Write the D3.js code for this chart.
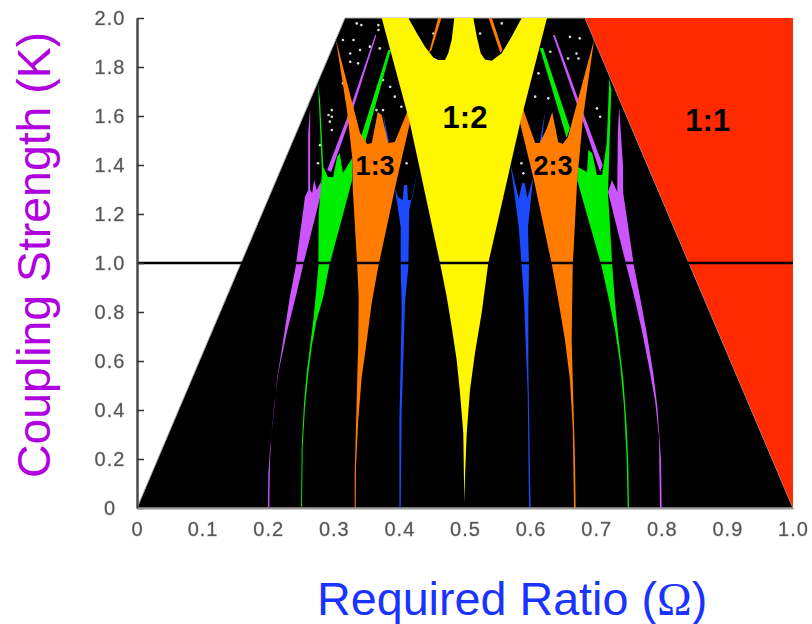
<!DOCTYPE html>
<html>
<head>
<meta charset="utf-8">
<style>
  body { margin: 0; background: #fff; }
  svg { display: block; font-family: "Liberation Sans", Arial, sans-serif; }
  .tick text { font-size: 20px; letter-spacing: 1px; fill: #555; stroke: #ccc; stroke-width: 0.8px; paint-order: stroke; filter: url(#softText); }
  .yaxis .domain { stroke: #4a4a4a; stroke-width: 2.5px; }
  .yaxis .tick line { stroke: #333; stroke-width: 1.5px; }
  .xaxis .domain { stroke: #999; stroke-width: 2px; }
  .ratio { font-weight: bold; fill: #000; text-anchor: middle; }
</style>
</head>
<body>
<div id="chartId"></div>
<script src="https://d3js.org/d3.v7.min.js"></script>
<script>

// Tick labels
const xTicks = [0, 0.1, 0.2, 0.3, 0.4, 0.5, 0.6, 0.7, 0.8, 0.9, 1.0];
const yTicks = [0, 0.2, 0.4, 0.6, 0.8, 1.0, 1.2, 1.4, 1.6, 1.8, 2.0];

// Arnold tongues, each outline is [omega, K]
const chaosRegion = [[0, 0], [0.317, 2], [0.683, 2], [1, 0]];
const tongue1to1 = [[0.683, 2], [1, 2], [1, 0]];
const tongue1to2 = [[0.373, 2], [0.416, 1.571], [0.4619, 1], [0.4721, 0.862], [0.4797, 0.74], [0.4873, 0.604], [0.4924, 0.469], [0.4974, 0.306], [0.4989, 0.02], [0.5, 0.127], [0.5026, 0.306], [0.5076, 0.482], [0.5152, 0.633], [0.5254, 0.796], [0.5355, 1], [0.584, 1.571], [0.625, 2], [0.5864, 2], [0.5712, 1.924], [0.556, 1.856], [0.5407, 1.826], [0.5305, 1.831], [0.5239, 1.856], [0.5179, 1.924], [0.5127, 2], [0.4837, 2], [0.4797, 1.91], [0.4745, 1.856], [0.4695, 1.829], [0.4593, 1.829], [0.4517, 1.839], [0.439, 1.883], [0.4264, 1.939], [0.4136, 2]];
const orangeTopLeft = [[0.459, 2], [0.464, 2], [0.449, 1.869], [0.445, 1.857]];
const orangeTopRight = [[0.536, 2], [0.541, 2], [0.557, 1.869], [0.554, 1.857]];
const tongue1to3 = [[0.303, 1.914], [0.34, 1.531], [0.351, 1.486], [0.358, 1.49], [0.367, 1.616], [0.373, 1.604], [0.383, 1.49], [0.393, 1.494], [0.413, 1.624], [0.416, 1.571], [0.396, 1.339], [0.3678, 0.985], [0.3578, 0.837], [0.3491, 0.658], [0.3426, 0.536], [0.3373, 0.359], [0.3338, 0.169], [0.3334, 0], [0.3318, 0], [0.3318, 0.143], [0.3338, 0.332], [0.3358, 0.536], [0.3373, 0.673], [0.3379, 0.862], [0.3358, 0.985], [0.329, 1.298], [0.328, 1.433], [0.32, 1.624]];
const tongue2to3 = [[0.697, 1.914], [0.657, 1.514], [0.649, 1.486], [0.642, 1.494], [0.633, 1.616], [0.625, 1.551], [0.614, 1.49], [0.607, 1.49], [0.588, 1.633], [0.584, 1.571], [0.605, 1.339], [0.633, 0.985], [0.6422, 0.849], [0.6524, 0.686], [0.66, 0.522], [0.6642, 0.331], [0.6662, 0], [0.6687, 0], [0.6677, 0.196], [0.6651, 0.441], [0.6626, 0.686], [0.6642, 0.985], [0.671, 1.339], [0.68, 1.596]];
const tongue1to4 = [[0.2515, 0.005], [0.2526, 0.25], [0.2561, 0.413], [0.2612, 0.551], [0.2663, 0.658], [0.2739, 0.767], [0.284, 0.862], [0.2927, 0.985], [0.328, 1.339], [0.328, 1.429], [0.314, 1.367], [0.309, 1.449], [0.305, 1.433], [0.299, 1.351], [0.291, 1.351], [0.284, 1.392], [0.279, 1.665], [0.276, 1.739], [0.282, 1.367], [0.277, 1.204], [0.2764, 0.985], [0.2729, 0.878], [0.2688, 0.767], [0.2637, 0.658], [0.2587, 0.551], [0.2546, 0.429], [0.2511, 0.25], [0.25, 0.005]];
const strip1to4 = [[0.34, 1.502], [0.383, 1.869], [0.387, 1.869], [0.348, 1.494]];
const tongue3to4 = [[0.748, 0], [0.7465, 0.196], [0.7424, 0.413], [0.7363, 0.592], [0.7287, 0.727], [0.7185, 0.862], [0.7084, 0.985], [0.671, 1.339], [0.672, 1.392], [0.686, 1.371], [0.688, 1.461], [0.694, 1.449], [0.701, 1.359], [0.709, 1.359], [0.716, 1.49], [0.72, 1.755], [0.723, 1.706], [0.718, 1.286], [0.7246, 0.985], [0.7287, 0.837], [0.7337, 0.699], [0.7414, 0.522], [0.7465, 0.332], [0.749, 0.169], [0.75, 0]];
const strip3to4 = [[0.614, 1.878], [0.619, 1.878], [0.66, 1.551], [0.655, 1.51]];
const tongue1to5 = [[0.2017, 0.004], [0.2027, 0.196], [0.2047, 0.29], [0.2088, 0.412], [0.2154, 0.551], [0.2282, 0.714], [0.2434, 0.878], [0.2526, 0.985], [0.282, 1.298], [0.28, 1.331], [0.274, 1.298], [0.27, 1.339], [0.267, 1.286], [0.264, 1.298], [0.264, 1.531], [0.264, 1.637], [0.261, 1.531], [0.261, 1.298], [0.256, 1.269], [0.2419, 0.985], [0.2322, 0.849], [0.223, 0.686], [0.2139, 0.535], [0.2078, 0.371], [0.2027, 0.237], [0.2002, 0.143], [0.1997, 0.004]];
const strip1to5 = [[0.29, 1.38], [0.319, 1.584], [0.363, 1.931], [0.365, 1.931], [0.323, 1.576], [0.296, 1.371]];
const tongue4to5 = [[0.7972, 0], [0.7957, 0.291], [0.7896, 0.441], [0.7794, 0.592], [0.7694, 0.727], [0.7592, 0.849], [0.7465, 0.985], [0.718, 1.29], [0.724, 1.339], [0.732, 1.29], [0.733, 1.531], [0.735, 1.637], [0.741, 1.392], [0.741, 1.29], [0.7577, 0.985], [0.7668, 0.862], [0.777, 0.714], [0.787, 0.551], [0.7932, 0.413], [0.7988, 0.196], [0.7998, 0]];
const strip4to5 = [[0.634, 1.931], [0.637, 1.931], [0.683, 1.592], [0.71, 1.4], [0.706, 1.371], [0.68, 1.576]];
const tongue2to5 = [[0.402, 0], [0.4035, 0.4], [0.406, 0.604], [0.4085, 0.837], [0.4136, 0.985], [0.415, 1.216], [0.43, 1.408], [0.419, 1.257], [0.413, 1.257], [0.412, 1.318], [0.407, 1.318], [0.405, 1.257], [0.398, 1.269], [0.393, 1.306], [0.402, 1.147], [0.402, 0.985], [0.4035, 0.808], [0.402, 0.604], [0.4, 0.359], [0.4, 0]];
const spike2to5 = [[0.375, 1.612], [0.384, 1.494], [0.381, 1.49]];
const tongue3to5 = [[0.5976, 0], [0.5956, 0.469], [0.5925, 0.673], [0.59, 0.849], [0.5864, 0.985], [0.582, 1.147], [0.576, 1.269], [0.569, 1.408], [0.582, 1.261], [0.587, 1.327], [0.591, 1.327], [0.595, 1.265], [0.604, 1.351], [0.596, 1.147], [0.5976, 0.985], [0.5965, 0.808], [0.5965, 0.576], [0.598, 0.331], [0.6, 0]];
const spike3to5 = [[0.622, 1.616], [0.614, 1.494], [0.617, 1.494]];

// White specks in the chaotic part at the top
const specks = [[0.335, 1.978], [0.342, 1.971], [0.368, 1.971], [0.368, 1.951], [0.314, 1.91], [0.33, 1.91], [0.325, 1.855], [0.34, 1.869], [0.337, 1.815], [0.325, 1.821], [0.355, 1.883], [0.37, 1.876], [0.297, 1.624], [0.292, 1.604], [0.297, 1.597], [0.294, 1.577], [0.297, 1.543], [0.279, 1.481], [0.375, 1.624], [0.365, 1.624], [0.393, 1.679], [0.375, 1.747], [0.386, 1.719], [0.403, 1.638], [0.411, 1.407], [0.276, 1.407], [0.314, 1.733], [0.66, 1.923], [0.675, 1.917], [0.67, 1.855], [0.673, 1.835], [0.657, 1.835], [0.63, 1.862], [0.612, 1.774], [0.607, 1.679], [0.627, 1.672], [0.701, 1.631], [0.706, 1.597], [0.586, 1.407], [0.589, 1.366], [0.556, 1.978], [0.523, 1.937], [0.452, 1.937]];

const ratioLabels = ['1:1', '1:2', '1:3', '2:3'];
const ratioOmega = [0.87, 0.5, 0.363, 0.634];
const ratioK = [1.584, 1.596, 1.4, 1.4];
const ratioSize = [31, 31, 27, 27];

// Define margins and scales
const margin = {top: 18, right: 19, bottom: 116, left: 137};
const width = 812 - margin.left - margin.right;
const height = 624 - margin.top - margin.bottom;

const x = d3.scaleLinear().domain([0, 1]).range([0, width]);
const y = d3.scaleLinear().domain([0, 2]).range([height, 0]);
const outline = d3.line().x(d => x(d[0])).y(d => y(d[1]));

const svg = d3.select('#chartId').append('svg')
  .attr('width', 812)
  .attr('height', 624);

// the original is a scaled bitmap, so soften it a little
svg.append('filter').attr('id', 'soft')
  .append('feGaussianBlur').attr('stdDeviation', 0.45);
svg.append('filter').attr('id', 'softText')
  .append('feGaussianBlur').attr('stdDeviation', 0.5);

const chart = svg.append('g')
  .attr('transform', 'translate(' + margin.left + ',' + margin.top + ')');

const marks = chart.append('g').attr('filter', 'url(#soft)');

function tongue(points, color) {
  return marks.append('path')
    .datum(points)
    .attr('fill', color)
    .attr('d', d => outline(d) + 'Z');
}

tongue(chaosRegion, '#000').attr('stroke', '#aaa').attr('stroke-width', 1);

marks.selectAll('circle')
  .data(specks).enter()
  .append('circle')
  .attr('cx', d => x(d[0]))
  .attr('cy', d => y(d[1]))
  .attr('r', 1.3)
  .attr('fill', '#ddd');

tongue(tongue1to1, '#ff2a00');
tongue(strip1to5, '#cc55ff');
tongue(strip4to5, '#cc55ff');
tongue(tongue1to5, '#cc55ff');
tongue(tongue4to5, '#cc55ff');
tongue(strip1to4, '#00ee00');
tongue(strip3to4, '#00ee00');
tongue(tongue1to4, '#00ee00');
tongue(tongue3to4, '#00ee00');
tongue(spike2to5, '#1a4cff');
tongue(spike3to5, '#1a4cff');
tongue(tongue2to5, '#1a4cff');
tongue(tongue3to5, '#1a4cff');
tongue(orangeTopLeft, '#ff7b00');
tongue(orangeTopRight, '#ff7b00');
tongue(tongue1to3, '#ff7b00');
tongue(tongue2to3, '#ff7b00');
tongue(tongue1to2, '#fff700');

// K = 1 line
chart.append('line')
  .attr('x1', x(0)).attr('x2', x(1))
  .attr('y1', y(1)).attr('y2', y(1))
  .attr('stroke', '#000')
  .attr('stroke-width', 2.5);

chart.selectAll('.ratio')
  .data(ratioLabels).enter()
  .append('text')
  .attr('class', 'ratio')
  .attr('x', (d, i) => x(ratioOmega[i]))
  .attr('y', (d, i) => y(ratioK[i]))
  .attr('dy', '0.36em')
  .attr('font-size', (d, i) => ratioSize[i])
  .text(d => d);

// Add the axes
const tickText = d => d === 0 ? '0' : d3.format('.1f')(d);

chart.append('g').attr('class', 'yaxis')
  .call(d3.axisLeft(y).tickValues(yTicks).tickFormat(tickText).tickSizeInner(-7).tickSizeOuter(0))
  .selectAll('text').attr('x', -27).attr('text-anchor', 'middle');

chart.append('g').attr('class', 'xaxis')
  .attr('transform', 'translate(0,' + height + ')')
  .call(d3.axisBottom(x).tickValues(xTicks).tickFormat(tickText).tickSize(0).tickPadding(14));

// Axis titles
svg.append('text')
  .attr('transform', 'translate(50,478) rotate(-90)')
  .attr('font-size', 46.4)
  .attr('fill', '#b000e0')
  .text('Coupling Strength (K)');

const xTitle = svg.append('text')
  .attr('x', 317)
  .attr('y', 615)
  .attr('font-size', 46.7)
  .attr('fill', '#1a33ff')
  .text('Required Ratio (');
xTitle.append('tspan').attr('font-family', '"Liberation Serif", serif').text('Ω');
xTitle.append('tspan').text(')');

</script>
</body>
</html>
